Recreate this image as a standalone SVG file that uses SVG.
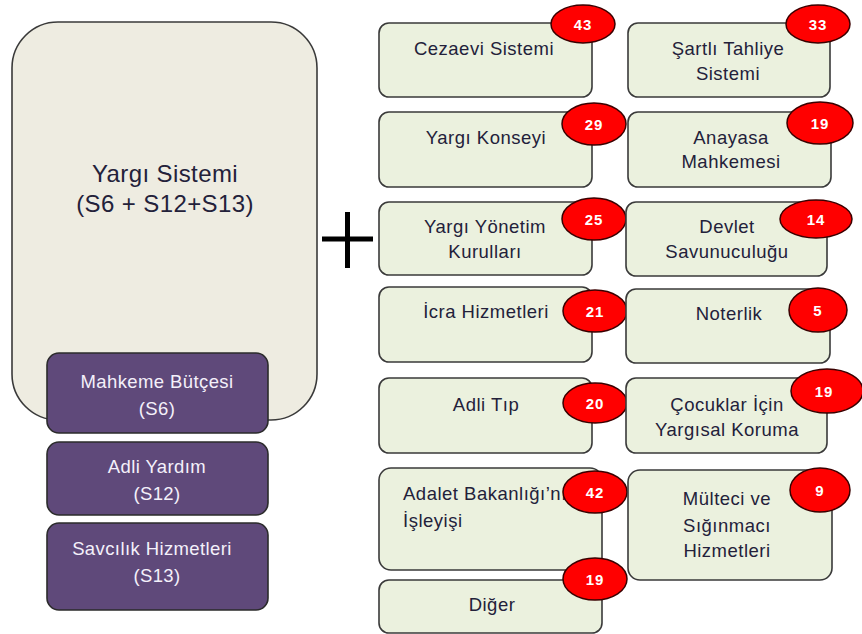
<svg xmlns="http://www.w3.org/2000/svg" width="862" height="634" viewBox="0 0 862 634">
<style>
.big{fill:#eeece1;stroke:#3a3a3a;stroke-width:1.6}
.pur{fill:#5f497a;stroke:#2b2b2b;stroke-width:1.6}
.grn{fill:#ebf1de;stroke:#3a3a3a;stroke-width:1.6}
.bad{fill:#ff0000;stroke:#3a0000;stroke-width:1.5}
text{font-family:"Liberation Sans",Arial,sans-serif}
.t{font-size:18.5px;fill:#23213a;text-anchor:middle;letter-spacing:0.5px}
.tl{font-size:18.5px;fill:#23213a;letter-spacing:0.5px}
.pt{font-size:18.5px;fill:#f4f0fa;text-anchor:middle;letter-spacing:0.4px}
.bt{font-size:24px;fill:#23213a;text-anchor:middle;letter-spacing:0.4px}
.n{font-size:15px;font-weight:bold;fill:#ffffff;text-anchor:middle;letter-spacing:1px}
</style>
<g id="yargi-sistemi">
<rect class="big" x="12" y="22" width="305" height="398" rx="46"/>
<text class="bt" x="165" y="182">Yargı Sistemi</text>
<text class="bt" x="165" y="212">(S6 + S12+S13)</text>
</g>
<g id="mahkeme-butcesi">
<rect class="pur" x="47" y="353" width="221" height="80" rx="12"/>
<text class="pt" x="157" y="388">Mahkeme Bütçesi</text>
<text class="pt" x="157" y="415">(S6)</text>
</g>
<g id="adli-yardim">
<rect class="pur" x="47" y="442" width="221" height="73" rx="12"/>
<text class="pt" x="157" y="473">Adli Yardım</text>
<text class="pt" x="157" y="500">(S12)</text>
</g>
<g id="savcilik">
<rect class="pur" x="47" y="523" width="221" height="87" rx="12"/>
<text class="pt" x="152" y="555">Savcılık Hizmetleri</text>
<text class="pt" x="157" y="582">(S13)</text>
</g>
<g id="plus">
<line x1="322" y1="239" x2="373" y2="239" stroke="#000" stroke-width="5"/>
<line x1="347.5" y1="212" x2="347.5" y2="268" stroke="#000" stroke-width="5"/>
</g>
<g id="connectors"></g>
<g id="cezaevi">
<rect class="grn" x="379" y="23" width="213" height="74" rx="10"/>
<text class="t" x="484" y="55">Cezaevi Sistemi</text>
<ellipse class="bad" cx="583" cy="24" rx="32" ry="19"/>
<text class="n" x="583" y="30">43</text>
</g>
<g id="sartli-tahliye">
<rect class="grn" x="628" y="23" width="202" height="74" rx="10"/>
<text class="t" x="728" y="55">Şartlı Tahliye</text>
<text class="t" x="728" y="80">Sistemi</text>
<ellipse class="bad" cx="818" cy="24" rx="32" ry="19"/>
<text class="n" x="818" y="30">33</text>
</g>
<g id="yargi-konseyi">
<rect class="grn" x="379" y="112" width="213" height="75" rx="10"/>
<text class="t" x="486" y="144">Yargı Konseyi</text>
<ellipse class="bad" cx="594" cy="124" rx="32" ry="21"/>
<text class="n" x="594" y="130">29</text>
</g>
<g id="anayasa">
<rect class="grn" x="628" y="112" width="203" height="75" rx="10"/>
<text class="t" x="731" y="144">Anayasa</text>
<text class="t" x="731" y="168">Mahkemesi</text>
<ellipse class="bad" cx="820" cy="123" rx="33" ry="21"/>
<text class="n" x="820" y="129">19</text>
</g>
<g id="yargi-yonetim">
<rect class="grn" x="379" y="202" width="213" height="73" rx="10"/>
<text class="t" x="485" y="233">Yargı Yönetim</text>
<text class="t" x="485" y="258">Kurulları</text>
<ellipse class="bad" cx="594" cy="219" rx="32" ry="21"/>
<text class="n" x="594" y="225">25</text>
</g>
<g id="devlet-savunuculugu">
<rect class="grn" x="626" y="202" width="201" height="74" rx="10"/>
<text class="t" x="727" y="233">Devlet</text>
<text class="t" x="727" y="258">Savunuculuğu</text>
<ellipse class="bad" cx="816" cy="219" rx="36" ry="19"/>
<text class="n" x="816" y="225">14</text>
</g>
<g id="icra">
<rect class="grn" x="379" y="287" width="213" height="75" rx="10"/>
<text class="t" x="486" y="318">İcra Hizmetleri</text>
<ellipse class="bad" cx="595" cy="311" rx="32" ry="21"/>
<text class="n" x="595" y="317">21</text>
</g>
<g id="noterlik">
<rect class="grn" x="626" y="289" width="204" height="74" rx="10"/>
<text class="t" x="729" y="320">Noterlik</text>
<ellipse class="bad" cx="818" cy="310" rx="29" ry="22"/>
<text class="n" x="818" y="316">5</text>
</g>
<g id="adli-tip">
<rect class="grn" x="379" y="378" width="213" height="75" rx="10"/>
<text class="t" x="486" y="411">Adli Tıp</text>
<ellipse class="bad" cx="595" cy="403" rx="32" ry="20"/>
<text class="n" x="595" y="409">20</text>
</g>
<g id="cocuklar">
<rect class="grn" x="626" y="378" width="201" height="75" rx="10"/>
<text class="t" x="727" y="411">Çocuklar İçin</text>
<text class="t" x="727" y="436">Yargısal Koruma</text>
<ellipse class="bad" cx="827" cy="391" rx="36" ry="22"/>
<text class="n" x="824" y="397">19</text>
</g>
<g id="adalet-bakanligi">
<rect class="grn" x="379" y="468" width="223" height="102" rx="12"/>
<text class="tl" x="403" y="500">Adalet Bakanlığı’nın</text>
<text class="tl" x="403" y="527">İşleyişi</text>
<ellipse class="bad" cx="595" cy="492" rx="32" ry="21"/>
<text class="n" x="595" y="498">42</text>
</g>
<g id="multeci">
<rect class="grn" x="628" y="470" width="204" height="110" rx="12"/>
<text class="t" x="727" y="505">Mülteci ve</text>
<text class="t" x="727" y="532">Sığınmacı</text>
<text class="t" x="727" y="557">Hizmetleri</text>
<ellipse class="bad" cx="820" cy="490" rx="30" ry="22"/>
<text class="n" x="820" y="496">9</text>
</g>
<g id="diger">
<rect class="grn" x="379" y="580" width="223" height="53" rx="10"/>
<text class="t" x="492" y="611">Diğer</text>
<ellipse class="bad" cx="595" cy="579" rx="32" ry="21"/>
<text class="n" x="595" y="585">19</text>
</g>
</svg>
